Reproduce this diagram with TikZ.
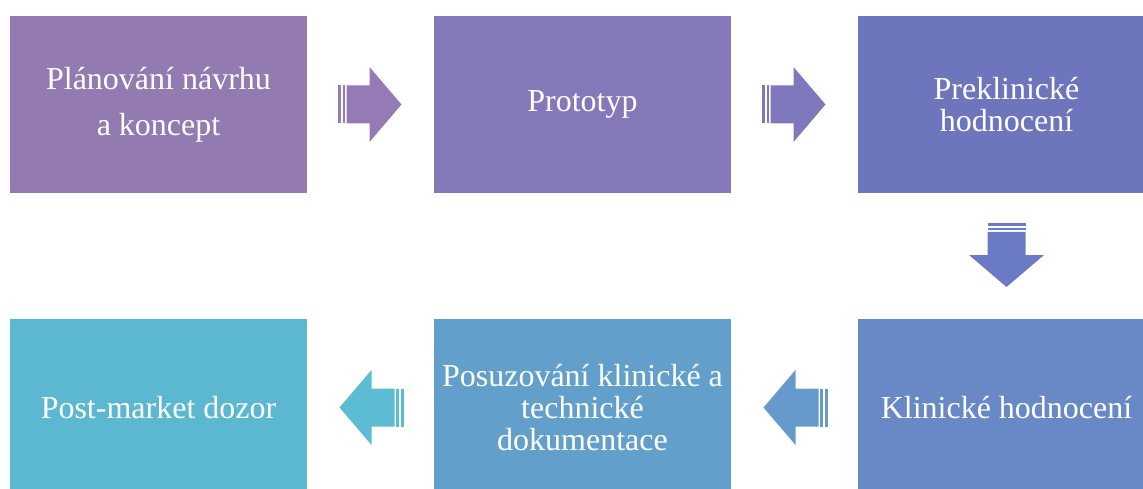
\documentclass[tikz,border=0pt]{standalone}
\usepackage{fontspec}
\setmainfont{Liberation Serif}
\usetikzlibrary{calc}
\definecolor{cA}{HTML}{937AB0}
\definecolor{cB}{HTML}{8478B9}
\definecolor{cC}{HTML}{6D76BD}
\definecolor{cD}{HTML}{6889C5}
\definecolor{cE}{HTML}{62A0CB}
\definecolor{cF}{HTML}{5BB8D0}
\definecolor{aA}{HTML}{947BB6}
\definecolor{aB}{HTML}{8078BD}
\definecolor{aC}{HTML}{6B7AC4}
\definecolor{aD}{HTML}{6699CC}
\definecolor{aE}{HTML}{5CBCD4}
\tikzset{
  stagebox/.style={rectangle, draw=none, minimum width=297pt, minimum height=177pt,
    inner sep=0pt, text=white, align=center, font=\fontsize{32}{32}\selectfont},
  rarrow/.pic={
    \fill (31,0) -- (-1,37.5) -- (-1,19) -- (-24,19) -- (-24,-19) -- (-1,-19) -- (-1,-37.5) -- cycle;
    \fill (-28,-19) rectangle (-25.5,19);
    \fill (-33,-19) rectangle (-30,19);
  }
}
\begin{document}
\begin{tikzpicture}[x=1pt,y=-1pt]
\useasboundingbox (0,0) rectangle (1143,489);
\clip (0,0) rectangle (1143,489);
\node[stagebox, fill=cA] (b1) at (158.5,104.5) {Plánování návrhu\\[14pt]a koncept};
\node[stagebox, fill=cB] (b2) at (582.5,104.5) {Prototyp};
\node[stagebox, fill=cC] (b3) at (1006.5,104.5) {Preklinické\\hodnocení};
\node[stagebox, fill=cD] (b4) at (1006.5,407.5) {Klinické hodnocení};
\node[stagebox, fill=cE] (b5) at (582.5,407.5) {Posuzování klinické a\\technické\\dokumentace};
\node[stagebox, fill=cF] (b6) at (158.5,407.5) {Post-market dozor};
\pic[color=aA] at ($(b1.east)!0.5!(b2.west)$) {rarrow};
\pic[color=aB] at ($(b2.east)!0.5!(b3.west)$) {rarrow};
\pic[color=aC, rotate=-90] at ($(b3.south)!0.5!(b4.north)$) {rarrow};
\pic[color=aD, rotate=180] at ($(b4.west)!0.5!(b5.east)$) {rarrow};
\pic[color=aE, rotate=180] at ($(b5.west)!0.5!(b6.east)$) {rarrow};
\end{tikzpicture}
\end{document}
